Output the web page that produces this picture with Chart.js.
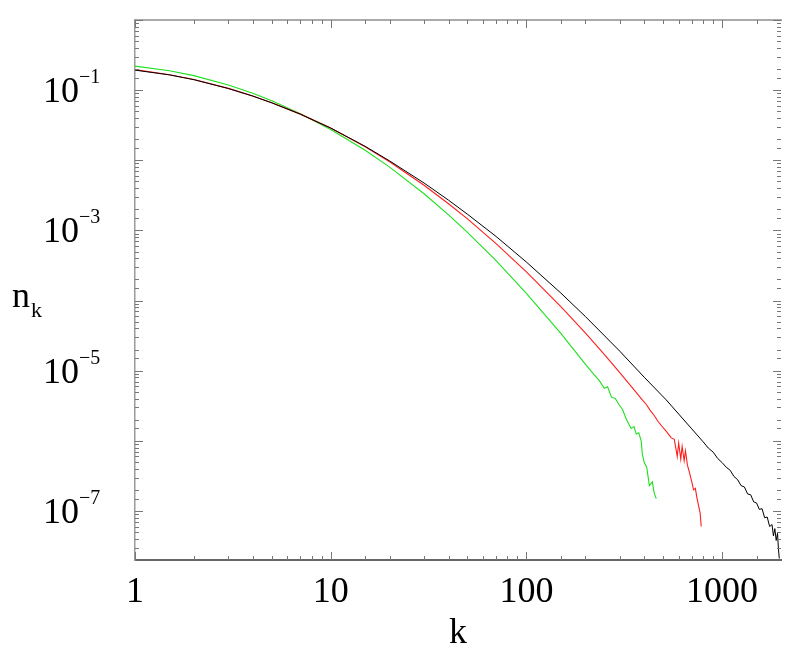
<!DOCTYPE html>
<html>
<head>
<meta charset="utf-8">
<script src="https://cdn.jsdelivr.net/npm/chart.js@4/dist/chart.umd.min.js"></script>
<style>
  body { margin: 0; background: #fff; }
  #wrap { width: 800px; height: 659px; }
</style>
</head>
<body>
<div id="wrap"><canvas id="nk" width="800" height="659"></canvas></div>
<script>
// k values and n_k values, one pair of arrays per run
const blackK = [1, 1.5, 2, 3, 4, 5, 7, 10, 15, 20, 30, 40, 50, 70, 100, 150, 200, 300, 400, 518, 600, 700, 800,
  850, 900, 950, 1000, 1050, 1100, 1150, 1200, 1250, 1300, 1350, 1400, 1450, 1500, 1550, 1600, 1650, 1700,
  1750, 1800, 1830, 1860, 1890, 1920, 1940, 1960];
const blackN = [0.193, 0.165, 0.141, 0.1055, 0.0822, 0.0659, 0.0454, 0.0288, 0.0158, 0.0098, 0.00474, 0.0027,
  0.0017, 8.2e-4, 3.54e-4, 1.28e-4, 5.94e-5, 1.9e-5, 8.07e-6, 3.84e-6, 2.41e-6, 1.48e-6, 9.7e-7,
  7.9e-7, 6.9e-7, 5.6e-7, 4.9e-7, 4.2e-7, 3.8e-7, 3.1e-7, 2.8e-7, 2.3e-7, 2.2e-7, 1.75e-7, 1.7e-7, 1.35e-7,
  1.3e-7, 1.05e-7, 1.08e-7, 8.0e-8, 8.2e-8, 6.0e-8, 6.4e-8, 4.4e-8, 5.6e-8, 3.8e-8, 4.8e-8, 2.9e-8, 2.1e-8];

const redK = [1, 1.5, 2, 3, 4, 5, 7, 10, 15, 20, 30, 40, 50, 70, 100, 150, 200, 250, 300, 350, 391,
  410, 430, 450, 470, 494, 520, 550, 570, 590, 600, 615, 625, 640, 650, 665, 680, 700, 715, 730, 745, 760, 772, 782];
const redN = [0.196, 0.166, 0.142, 0.106, 0.0826, 0.066, 0.0455, 0.0288, 0.0156, 0.00955, 0.00441, 0.0024,
  0.00146, 6.5e-4, 2.57e-4, 8.2e-5, 3.45e-5, 1.71e-5, 9.4e-6, 5.6e-6, 3.83e-6,
  3.3e-6, 2.7e-6, 2.3e-6, 1.9e-6, 1.6e-6, 1.35e-6, 1.1e-6, 1.05e-6, 6.0e-7, 9.3e-7, 5.5e-7, 8.3e-7, 5.2e-7,
  7.2e-7, 4.5e-7, 3.6e-7, 2.6e-7, 2.0e-7, 2.1e-7, 1.5e-7, 1.15e-7, 9.5e-8, 6.0e-8];

const greenK = [1, 1.5, 2, 3, 4, 5, 7, 10, 15, 20, 30, 40, 50, 70, 100, 150, 200, 220, 236, 250, 260, 272, 285,
  297, 310, 325, 343, 355, 364, 375, 386, 391, 400, 412, 425, 440, 450, 461];
const greenN = [0.220, 0.189, 0.161, 0.1184, 0.090, 0.0705, 0.0462, 0.0275, 0.0139, 0.0080, 0.00333, 0.00167,
  9.4e-4, 3.71e-4, 1.27e-4, 3.4e-5, 1.24e-5, 9.0e-6, 7.2e-6, 5.6e-6, 5.9e-6, 4.2e-6, 4.0e-6, 3.3e-6, 2.8e-6,
  2.0e-6, 1.5e-6, 1.6e-6, 1.25e-6, 1.3e-6, 1.0e-6, 6.5e-7, 4.9e-7, 4.2e-7, 2.3e-7, 2.6e-7, 1.8e-7, 1.5e-7];

const xLabels = { 1: '1', 10: '10', 100: '100', 1000: '1000' };
const yTickExps = [-1, -3, -5, -7];

const X_MIN = 1, X_MAX = 2000;
const Y_MIN = 2e-8, Y_MAX = 1;

function pts(ks, ns) {
  return ks.map((k, i) => ({ x: k, y: ns[i] }));
}

function isDecade(v) {
  const l = Math.log10(v);
  return Math.abs(l - Math.round(l)) < 1e-6;
}

const FAMILY = '"Liberation Serif", "Times New Roman", Times, serif';

// inward tick marks on all four sides, 10^n labels with a real superscript, and the n_k title
const frame = {
  id: 'frame',
  afterDraw(chart) {
    const ctx = chart.ctx;
    const area = chart.chartArea;
    ctx.save();
    ctx.strokeStyle = '#777';
    ctx.lineWidth = 1;
    ['x', 'x2', 'y', 'y2'].forEach(id => {
      const s = chart.scales[id];
      if (!s) return;
      s.ticks.forEach(t => {
        const p = Math.round(s.getPixelForValue(t.value)) + 0.5;
        const len = isDecade(t.value) ? 8 : 4;
        ctx.beginPath();
        if (id === 'x') {
          if (p < area.left || p > area.right) return;
          ctx.moveTo(p, area.bottom); ctx.lineTo(p, area.bottom - len);
        } else if (id === 'x2') {
          if (p < area.left || p > area.right) return;
          ctx.moveTo(p, area.top); ctx.lineTo(p, area.top + len);
        } else if (id === 'y') {
          if (p < area.top || p > area.bottom) return;
          ctx.moveTo(area.left, p); ctx.lineTo(area.left + len, p);
        } else {
          if (p < area.top || p > area.bottom) return;
          ctx.moveTo(area.right, p); ctx.lineTo(area.right - len, p);
        }
        ctx.stroke();
      });
    });

    ctx.fillStyle = '#000';
    ctx.textBaseline = 'alphabetic';
    ctx.textAlign = 'left';
    const ys = chart.scales.y;
    yTickExps.forEach(e => {
      const py = ys.getPixelForValue(Math.pow(10, e));
      ctx.font = '36px ' + FAMILY;
      ctx.fillText('10', 43, py + 12);
      ctx.font = '20px ' + FAMILY;
      ctx.fillText('\u2212' + Math.abs(e), 79, py - 7);
    });

    ctx.font = '36px ' + FAMILY;
    ctx.fillText('n', 12, 307);
    ctx.font = '22px ' + FAMILY;
    ctx.fillText('k', 31, 317);
    ctx.restore();
  }
};

const serif = { family: FAMILY, size: 36 };

new Chart(document.getElementById('nk'), {
  type: 'line',
  data: {
    datasets: [
      { label: 'black', data: pts(blackK, blackN), borderColor: '#000', borderWidth: 1, order: 1 },
      { label: 'red', data: pts(redK, redN), borderColor: 'rgb(255,30,30)', borderWidth: 1.1, order: 2 },
      { label: 'green', data: pts(greenK, greenN), borderColor: 'rgb(30,225,30)', borderWidth: 1.1, order: 3 }
    ]
  },
  options: {
    responsive: false,
    animation: false,
    devicePixelRatio: 1,
    layout: { padding: { top: 20, right: 19, left: 0, bottom: 0 } },
    elements: { point: { radius: 0 }, line: { tension: 0 } },
    plugins: { legend: { display: false }, tooltip: { enabled: false } },
    scales: {
      x: {
        type: 'logarithmic', position: 'bottom', min: X_MIN, max: X_MAX,
        grid: { display: false, drawTicks: false },
        border: { display: true, color: '#666', width: 2 },
        ticks: {
          autoSkip: false, maxRotation: 0, padding: 11, color: '#000', font: serif,
          callback: v => xLabels[v] || ''
        },
        title: { display: true, text: 'k', color: '#000', font: serif, padding: { top: 0, bottom: 4 } },
        afterFit: s => { s.height = 99; }
      },
      x2: {
        type: 'logarithmic', position: 'top', min: X_MIN, max: X_MAX,
        grid: { display: false, drawTicks: false },
        border: { display: true, color: '#aaa', width: 2 },
        ticks: { display: false },
        afterFit: s => { s.height = 0; }
      },
      y: {
        type: 'logarithmic', position: 'left', min: Y_MIN, max: Y_MAX,
        grid: { display: false, drawTicks: false },
        border: { display: true, color: '#999', width: 1.5 },
        ticks: { display: false },
        afterFit: s => { s.width = 135; }
      },
      y2: {
        type: 'logarithmic', position: 'right', min: Y_MIN, max: Y_MAX,
        grid: { display: false, drawTicks: false },
        border: { display: false },
        ticks: { display: false },
        afterFit: s => { s.width = 0; }
      }
    }
  },
  plugins: [frame]
});
</script>
</body>
</html>
